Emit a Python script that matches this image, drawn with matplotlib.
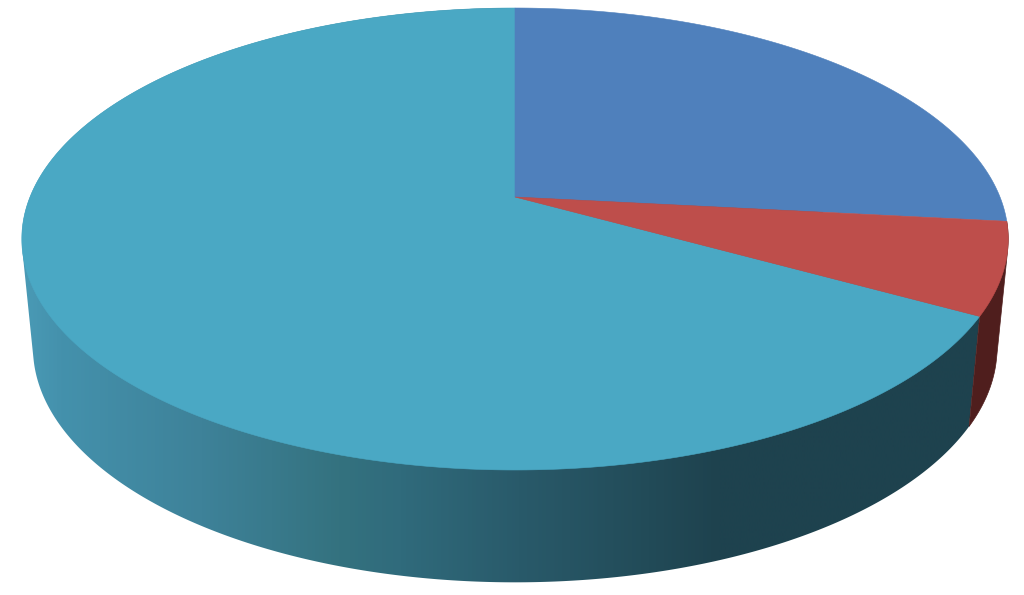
import numpy as np
import matplotlib
matplotlib.use('Agg')
import matplotlib.pyplot as plt
from matplotlib.colors import LinearSegmentedColormap
from matplotlib.patches import Polygon

# slice shares in percent, clockwise from 12 o'clock
slice_names = ['blue', 'red', 'teal']
slice_values = [26.7, 6.4, 66.9]
top_colors = ['#4f80bc', '#be4e4b', '#4aa8c4']
red_wall_color = '#4f1e1d'

# shading of the teal wall, left to right
ramp_x = [22, 60, 200, 340, 400, 520, 650, 720, 1024]
ramp_colors = ['#4a9ab6', '#4491ac', '#3e8299', '#34727f', '#306b7c', '#295a6a', '#224b58', '#1e424e', '#1e424e']

# perspective of the disc
cx = 515
squeeze = 0.1818

def project(theta, y_far, y_apex, radius):
    # theta in radians, clockwise from the top of the disc
    u = np.sin(theta)
    v = np.cos(theta)
    a = y_far * (1 + squeeze) - y_apex
    w = squeeze * v + 1
    return cx + radius * u / w, (a * v + y_apex) / w

def top_face(theta):
    return project(theta, 8, 197, 485)

def bottom_face(theta):
    return project(theta, 113, 305, 474)

def half_hull(points):
    out = []
    for p in points:
        while len(out) > 1:
            cross = (out[-1][0] - out[-2][0]) * (p[1] - out[-2][1]) - (out[-1][1] - out[-2][1]) * (p[0] - out[-2][0])
            if cross > 0:
                break
            out.pop()
        out.append(p)
    return out[:-1]

def wall_outline(start, end):
    # hull of both rims, so the side edges run straight from rim to rim
    t = np.linspace(start, end, 500)
    xt, yt = top_face(t)
    xb, yb = bottom_face(t)
    points = sorted(zip(np.r_[xt, xb], np.r_[yt, yb]))
    return np.array(half_hull(points) + half_hull(points[::-1]))

edges = np.radians(np.cumsum([0] + slice_values) * 3.6)

fig = plt.figure(figsize=(10.24, 5.95), dpi=100)
ax = fig.add_axes([0, 0, 1, 1])

ramp = LinearSegmentedColormap.from_list(
    'wall', [((x - 22) / (1024 - 22), c) for x, c in zip(ramp_x, ramp_colors)])

# walls first, the top face goes over them
outline = Polygon(wall_outline(edges[2], edges[3]), closed=True, transform=ax.transData,
                  fc='none', ec='none')
ax.add_patch(outline)
gradient = np.linspace(0, 1, 1024).reshape(1, -1)
img = ax.imshow(gradient, cmap=ramp, extent=(22, 1024, 595, 0), aspect='auto', interpolation='bilinear')
img.set_clip_path(outline)

ax.add_patch(Polygon(wall_outline(edges[1], edges[2]), closed=True, fc=red_wall_color, ec=red_wall_color, lw=0.5))

apex_x, apex_y = cx, 197
for i in [2, 0, 1]:
    t = np.linspace(edges[i], edges[i + 1], 400)
    x, y = top_face(t)
    ax.fill(np.r_[apex_x, x], np.r_[apex_y, y], color=top_colors[i], lw=0.4)

ax.set_xlim(0, 1024)
ax.set_ylim(595, 0)
ax.axis('off')

fig.savefig('out.png', dpi=100)
